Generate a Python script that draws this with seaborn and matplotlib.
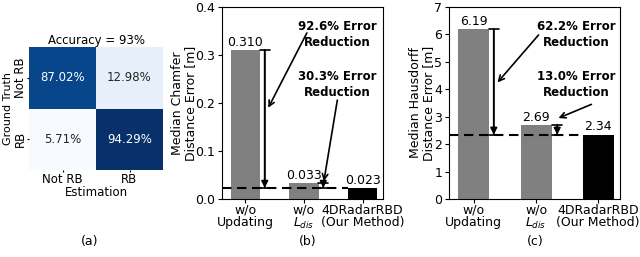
import matplotlib
matplotlib.use('Agg')
import matplotlib.pyplot as plt
import seaborn as sns
import numpy as np
import pandas as pd

# ---------------- data ----------------
cm_labels = ['Not RB', 'RB']
cm_values = [[87.02, 12.98], [5.71, 94.29]]
accuracy_title = 'Accuracy = 93%'

methods = ['w/o\nUpdating', 'w/o\n$L_{dis}$', '4DRadarRBD\n(Our Method)']
chamfer = [0.310, 0.033, 0.023]
chamfer_labels = ['0.310', '0.033', '0.023']
hausdorff = [6.19, 2.69, 2.34]
hausdorff_labels = ['6.19', '2.69', '2.34']
bar_colors = ['#808080', '#808080', '#000000']
chamfer_reductions = ['92.6% Error\nReduction', '30.3% Error\nReduction']
hausdorff_reductions = ['62.2% Error\nReduction', '13.0% Error\nReduction']
panel_labels = ['(a)', '(b)', '(c)']

plt.rcParams['font.family'] = ['DejaVu Sans']
FS = 9

fig = plt.figure(figsize=(6.4, 2.57), dpi=100)
W, H = 640, 257
axA = fig.add_axes([29 / W, 1 - 170 / H, 134 / W, 123 / H])
axB = fig.add_axes([222 / W, 1 - 199 / H, 161 / W, 192 / H])
axC = fig.add_axes([449 / W, 1 - 199 / H, 171 / W, 192 / H])

# ---------------- (a) confusion matrix ----------------
cm = np.array(cm_values)
annot = np.array([[f'{v:.2f}%' for v in row] for row in cm_values])
sns.heatmap(cm, annot=annot, fmt='', cmap='Blues', cbar=False, ax=axA,
            xticklabels=cm_labels, yticklabels=cm_labels,
            annot_kws={'fontsize': 8.5})
axA.set_title(accuracy_title, fontsize=8.5, pad=1.5)
axA.set_xlabel('Estimation', fontsize=8.5, labelpad=0)
axA.set_ylabel('Ground Truth', fontsize=8)
axA.yaxis.set_label_coords(-0.12, 0.5)
axA.tick_params(labelsize=8.5, length=1.5, pad=1)
axA.tick_params(axis='y', pad=0)
for t in axA.get_yticklabels():
    t.set_rotation(90)
    t.set_va('center')
for t in axA.get_xticklabels():
    t.set_rotation(0)


def bar_panel(ax, values, labels, ymax, yticks, ylabel, label_x, reductions,
              text_pos, arrow1, arrow2, arrow_x, fmt_offset):
    df = pd.DataFrame({'method': methods, 'value': values})
    sns.barplot(data=df, x='method', y='value', hue='method', palette=bar_colors,
                width=0.5, legend=False, ax=ax, saturation=1)
    ax.set_xlim(-0.4, 2.35)
    ax.set_ylim(0, ymax)
    ax.set_yticks(yticks)
    ax.set_xlabel('')
    ax.set_ylabel(ylabel, fontsize=FS, linespacing=1.05)
    ax.yaxis.set_label_coords(label_x, 0.5)
    ax.tick_params(labelsize=FS, length=3, pad=2)
    ax.tick_params(axis='x', pad=0.5)
    for t in ax.get_xticklabels():
        t.set_linespacing(0.95)
    for i, (v, lab) in enumerate(zip(values, labels)):
        ax.text(i, v + fmt_offset, lab, ha='center', va='bottom', fontsize=FS)
    # dashed reference line at our method's value
    ax.hlines(values[2], -0.4, 1.75, colors='black', linestyles=(0, (4.5, 2.7)),
              lw=1.5, zorder=5)
    # vertical double-bar arrows
    for i, xa in ((0, arrow_x[0]), (1, arrow_x[1])):
        top, bot = values[i], values[2]
        ax.annotate('', xy=(xa, bot), xytext=(xa, top),
                    arrowprops=dict(arrowstyle='|-|,widthA=0.36,widthB=0.36',
                                    lw=1.2, shrinkA=0, shrinkB=0,
                                    mutation_scale=10, color='black'), zorder=6)
        ax.annotate('', xy=(xa, bot), xytext=(xa, top),
                    arrowprops=dict(arrowstyle='-|>', lw=1.2, shrinkA=0,
                                    shrinkB=0, mutation_scale=10,
                                    color='black'), zorder=6)
    # reduction texts with pointer arrows
    for txt, (tx, ty) in zip(reductions, text_pos):
        ax.text(tx, ty, txt, ha='center', va='center', fontsize=8.5,
                fontweight='bold', linespacing=1.3)
    for (xy, xyt) in (arrow1, arrow2):
        ax.annotate('', xy=xy, xytext=xyt,
                    arrowprops=dict(arrowstyle='->', lw=1.2, shrinkA=0,
                                    shrinkB=0, mutation_scale=10,
                                    color='black'), zorder=6)


bar_panel(axB, chamfer, chamfer_labels, 0.4, [0.0, 0.1, 0.2, 0.3, 0.4],
          'Median Chamfer\nDistance Error [m]', -0.155, chamfer_reductions,
          [(1.57, 0.342), (1.57, 0.238)],
          ((0.39, 0.19), (1.05, 0.346)),
          ((1.34, 0.037), (1.57, 0.206)), (0.33, 1.33), 0.003)

bar_panel(axC, hausdorff, hausdorff_labels, 7, [0, 1, 2, 3, 4, 5, 6, 7],
          'Median Hausdorff\nDistance Error [m]', -0.08, hausdorff_reductions,
          [(1.64, 6.0), (1.64, 4.16)],
          ((0.38, 4.25), (1.04, 5.98)),
          ((1.36, 2.95), (1.89, 3.45)), (0.32, 1.34), 0.05)

for lab, x in zip(panel_labels, [90, 308, 535]):
    fig.text(x / W, 1 - 241 / H, lab, ha='center', va='center', fontsize=FS)

fig.savefig('out.png', dpi=100)
